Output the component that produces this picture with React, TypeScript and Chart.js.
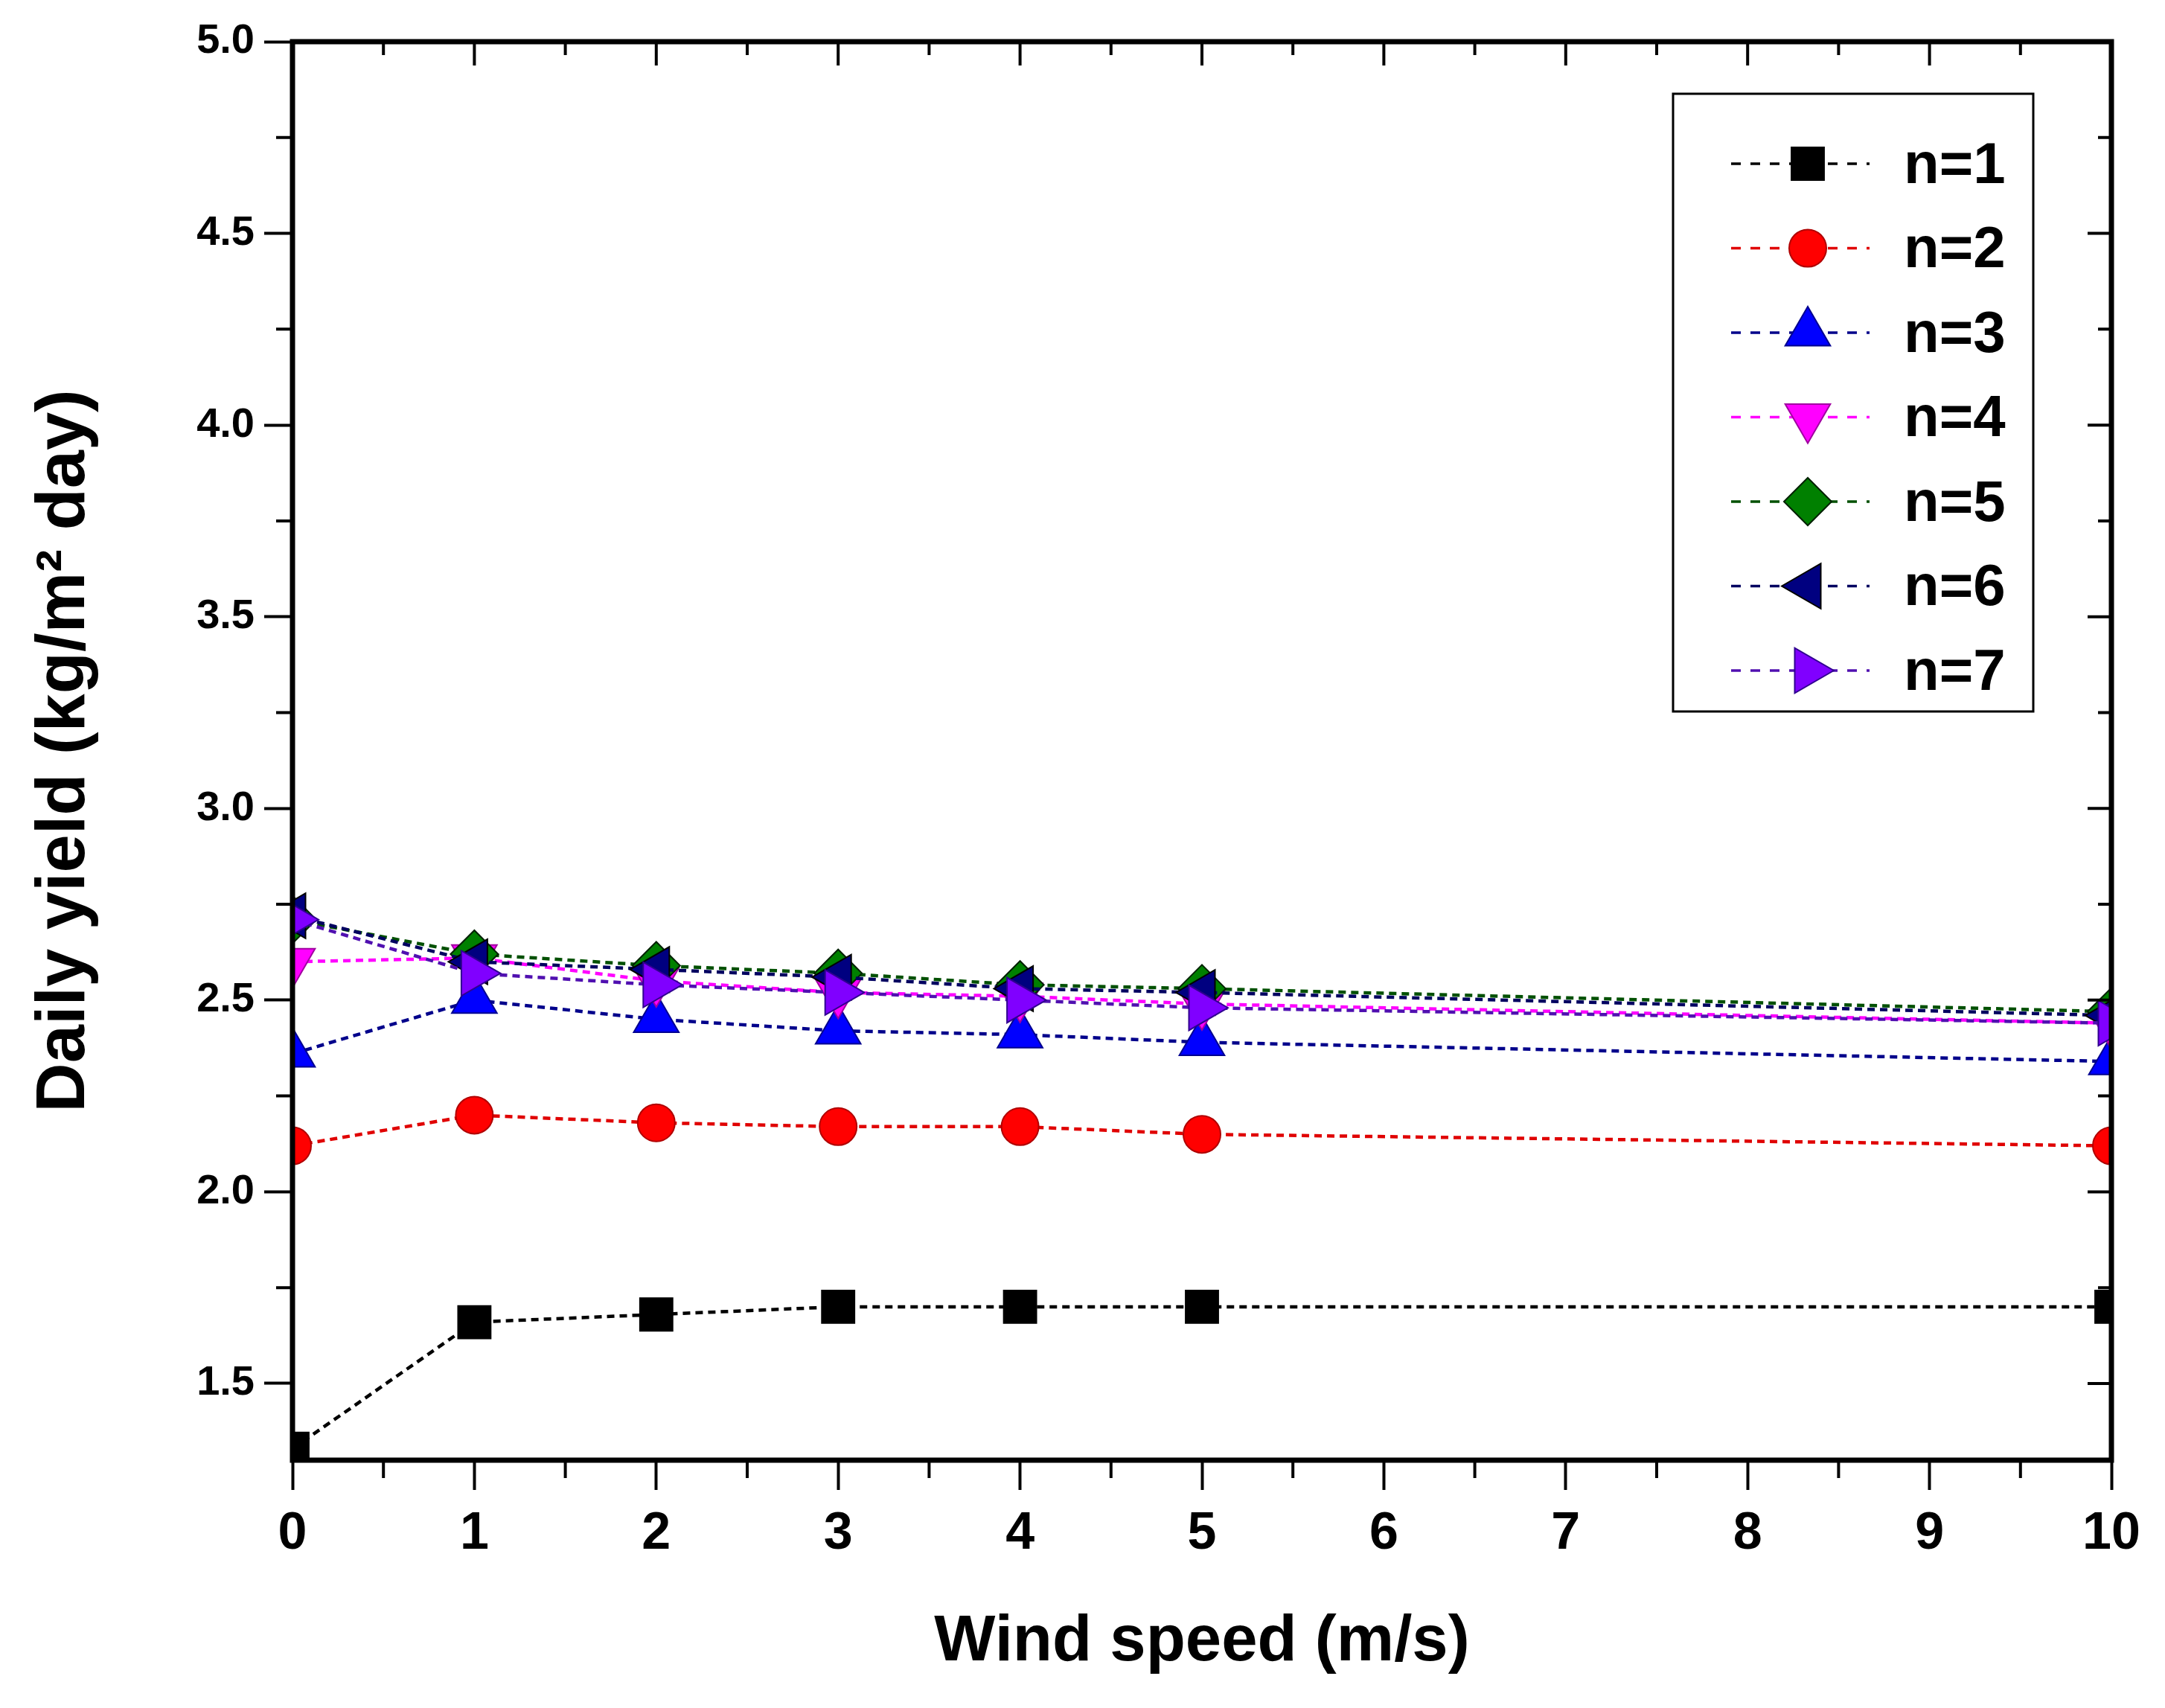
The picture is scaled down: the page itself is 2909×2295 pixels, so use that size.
import { useEffect, useRef } from 'react';
import Chart from 'chart.js/auto';
import { drawPoint } from 'chart.js/helpers';

const windSpeed = [0, 1, 2, 3, 4, 5, 10];

const yieldN1 = [1.33, 1.66, 1.68, 1.70, 1.70, 1.70, 1.70];
const yieldN2 = [2.12, 2.20, 2.18, 2.17, 2.17, 2.15, 2.12];
const yieldN3 = [2.36, 2.50, 2.45, 2.42, 2.41, 2.39, 2.34];
const yieldN4 = [2.60, 2.61, 2.55, 2.52, 2.51, 2.49, 2.44];
const yieldN5 = [2.71, 2.62, 2.59, 2.57, 2.54, 2.53, 2.47];
const yieldN6 = [2.72, 2.60, 2.58, 2.56, 2.53, 2.52, 2.46];
const yieldN7 = [2.71, 2.57, 2.54, 2.52, 2.50, 2.48, 2.44];

const seriesLabels = ['n=1', 'n=2', 'n=3', 'n=4', 'n=5', 'n=6', 'n=7'];

const xTicks = [0, 1, 2, 3, 4, 5, 6, 7, 8, 9, 10];
const xMinorTicks = [0.5, 1.5, 2.5, 3.5, 4.5, 5.5, 6.5, 7.5, 8.5, 9.5];
const yTicks = [1.5, 2.0, 2.5, 3.0, 3.5, 4.0, 4.5, 5.0];
const yMinorTicks = [1.75, 2.25, 2.75, 3.25, 3.75, 4.25, 4.75];

const FONT = "'Liberation Sans', Arial, sans-serif";

// marker / line styling per series
const styles = [
    { fill: '#000000', edge: '#000000', line: '#000000', shape: 'rect', rot: 0, r: 31 },
    { fill: '#FF0000', edge: '#B00000', line: '#E00000', shape: 'circle', rot: 0, r: 25 },
    { fill: '#0000FF', edge: '#000090', line: '#00008B', shape: 'triangle', rot: 0, r: 35 },
    { fill: '#FF00FF', edge: '#A000A0', line: '#FF00FF', shape: 'triangle', rot: 180, r: 35 },
    { fill: '#008000', edge: '#002000', line: '#005000', shape: 'rectRot', rot: 0, r: 32 },
    { fill: '#000080', edge: '#000000', line: '#000060', shape: 'triangle', rot: -90, r: 35 },
    { fill: '#8000FF', edge: '#300090', line: '#5010B0', shape: 'triangle', rot: 90, r: 35 },
];

const frameAndTicks = {
    id: 'frameAndTicks',
    afterDatasetsDraw(chart: any) {
        const { ctx, chartArea: a, scales } = chart;
        const xs = scales.x;
        const ys = scales.y;
        ctx.save();
        ctx.strokeStyle = '#000';
        ctx.lineWidth = 4;
        ctx.beginPath();
        xMinorTicks.forEach((v) => {
            const px = xs.getPixelForValue(v);
            ctx.moveTo(px, a.bottom); ctx.lineTo(px, a.bottom + 24);
            ctx.moveTo(px, a.top); ctx.lineTo(px, a.top + 18);
        });
        xTicks.forEach((v) => {
            const px = xs.getPixelForValue(v);
            ctx.moveTo(px, a.top); ctx.lineTo(px, a.top + 32);
        });
        yMinorTicks.forEach((v) => {
            const py = ys.getPixelForValue(v);
            ctx.moveTo(a.left - 22, py); ctx.lineTo(a.left, py);
            ctx.moveTo(a.right - 18, py); ctx.lineTo(a.right, py);
        });
        yTicks.forEach((v) => {
            const py = ys.getPixelForValue(v);
            ctx.moveTo(a.right - 32, py); ctx.lineTo(a.right, py);
        });
        ctx.stroke();
        ctx.lineWidth = 7;
        ctx.strokeRect(a.left, a.top, a.right - a.left, a.bottom - a.top);
        ctx.restore();
    },
};

const boxLegend = {
    id: 'boxLegend',
    afterDraw(chart: any) {
        const { ctx } = chart;
        ctx.save();
        ctx.strokeStyle = '#000';
        ctx.lineWidth = 3;
        ctx.strokeRect(2248, 126, 484, 830);
        seriesLabels.forEach((label, i) => {
            const s = styles[i];
            const y = 220 + i * 113.5;
            ctx.setLineDash([13, 13]);
            ctx.lineWidth = 3.5;
            ctx.strokeStyle = s.line;
            ctx.beginPath();
            ctx.moveTo(2326, y);
            ctx.lineTo(2512, y);
            ctx.stroke();
            ctx.setLineDash([]);
            ctx.fillStyle = s.fill;
            ctx.strokeStyle = s.edge;
            ctx.lineWidth = 2;
            drawPoint(ctx, { pointStyle: s.shape as any, rotation: s.rot, radius: s.r, borderWidth: 2 }, 2429, y);
            ctx.fillStyle = '#000';
            ctx.font = `bold 78px ${FONT}`;
            ctx.textBaseline = 'middle';
            ctx.textAlign = 'left';
            ctx.fillText(label, 2558, y + 4);
        });
        ctx.restore();
    },
};

export default function App() {
    const canvasRef = useRef<HTMLCanvasElement>(null);

    useEffect(() => {
        if (!canvasRef.current) return;
        const series = [yieldN1, yieldN2, yieldN3, yieldN4, yieldN5, yieldN6, yieldN7];
        const chart = new Chart(canvasRef.current, {
            type: 'line',
            data: {
                datasets: series.map((vals, i) => ({
                    label: seriesLabels[i],
                    data: windSpeed.map((x, j) => ({ x, y: vals[j] })),
                    borderColor: styles[i].line,
                    borderWidth: 4.5,
                    borderDash: [10, 7],
                    backgroundColor: styles[i].fill,
                    pointStyle: styles[i].shape as any,
                    pointRotation: styles[i].rot,
                    pointRadius: styles[i].r,
                    pointBackgroundColor: styles[i].fill,
                    pointBorderColor: styles[i].edge,
                    pointBorderWidth: 2,
                    fill: false,
                    tension: 0,
                    order: 7 - i,
                })),
            },
            options: {
                responsive: true,
                maintainAspectRatio: false,
                devicePixelRatio: 1,
                animation: false,
                layout: { padding: { top: 56, right: 72, left: 0, bottom: 0 } },
                plugins: {
                    legend: { display: false },
                    tooltip: { enabled: false },
                },
                scales: {
                    x: {
                        type: 'linear',
                        min: 0,
                        max: 10,
                        afterBuildTicks: (scale: any) => {
                            scale.ticks = xTicks.map((v) => ({ value: v }));
                        },
                        afterFit: (scale: any) => {
                            scale.height = 333;
                        },
                        border: { display: false },
                        grid: {
                            display: true,
                            drawOnChartArea: false,
                            drawTicks: true,
                            tickLength: 40,
                            tickWidth: 4,
                            tickColor: '#000',
                        },
                        ticks: {
                            color: '#000',
                            padding: 18,
                            maxRotation: 0,
                            font: { family: FONT, size: 70, weight: 'bold' },
                        },
                        title: {
                            display: true,
                            text: 'Wind speed (m/s)',
                            color: '#000',
                            padding: { top: 0, bottom: 36 },
                            font: { family: FONT, size: 87, weight: 'bold' },
                        },
                    },
                    y: {
                        type: 'linear',
                        min: 1.3,
                        max: 5.0,
                        afterBuildTicks: (scale: any) => {
                            scale.ticks = yTicks.map((v) => ({ value: v }));
                        },
                        afterFit: (scale: any) => {
                            scale.width = 393;
                        },
                        border: { display: false },
                        grid: {
                            display: true,
                            drawOnChartArea: false,
                            drawTicks: true,
                            tickLength: 38,
                            tickWidth: 4,
                            tickColor: '#000',
                        },
                        ticks: {
                            color: '#000',
                            padding: 13,
                            callback: (v: any) => Number(v).toFixed(1),
                            font: { family: FONT, size: 56, weight: 'bold' },
                        },
                        title: {
                            display: true,
                            text: 'Daily yield (kg/m² day)',
                            color: '#000',
                            padding: { top: 32, bottom: 0 },
                            font: { family: FONT, size: 92, weight: 'bold' },
                        },
                    },
                },
            },
            plugins: [frameAndTicks, boxLegend],
        });
        return () => chart.destroy();
    }, []);

    return (
        <div style={{ position: 'fixed', left: 0, top: 0, width: 2909, height: 2295, background: '#fff' }}>
            <canvas ref={canvasRef} />
        </div>
    );
}
